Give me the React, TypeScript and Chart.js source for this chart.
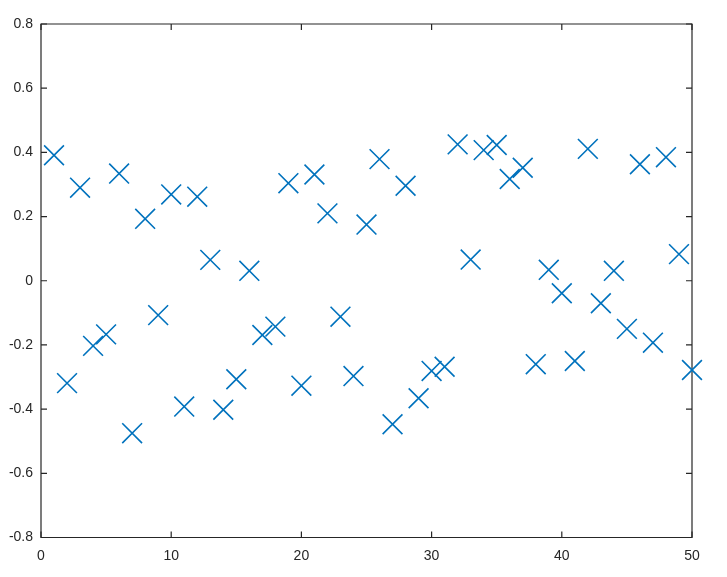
import React, { useEffect, useRef } from "react";
import { Chart, registerables } from "chart.js";

Chart.register(...registerables);

const xValues: number[] = [
  1, 2, 3, 4, 5, 6, 7, 8, 9, 10,
  11, 12, 13, 14, 15, 16, 17, 18, 19, 20,
  21, 22, 23, 24, 25, 26, 27, 28, 29, 30,
  31, 32, 33, 34, 35, 36, 37, 38, 39, 40,
  41, 42, 43, 44, 45, 46, 47, 48, 49, 50,
];

const yValues: number[] = [
  0.391, -0.319, 0.29, -0.203, -0.167, 0.334, -0.475, 0.193, -0.107, 0.269,
  -0.392, 0.262, 0.065, -0.402, -0.307, 0.031, -0.169, -0.143, 0.304, -0.327,
  0.331, 0.21, -0.112, -0.297, 0.175, 0.379, -0.447, 0.296, -0.366, -0.281,
  -0.268, 0.425, 0.066, 0.407, 0.423, 0.317, 0.352, -0.26, 0.034, -0.039,
  -0.25, 0.411, -0.07, 0.031, -0.15, 0.363, -0.193, 0.385, 0.083, -0.278,
];

const xTicks: number[] = [0, 10, 20, 30, 40, 50];
const yTicks: number[] = [-0.8, -0.6, -0.4, -0.2, 0, 0.2, 0.4, 0.6, 0.8];

const AXIS_COLOR = "#262626";
const MARK_COLOR = "#0072BD";
const FONT = "'Liberation Sans', Arial, sans-serif";

const framePlugin = {
  id: "frameTicks",
  beforeDatasetsDraw(chart: any) {
    const { ctx, chartArea, scales } = chart;
    const { left, right, top, bottom } = chartArea;
    const len = 6;
    ctx.save();
    ctx.strokeStyle = AXIS_COLOR;
    ctx.lineWidth = 1.2;
    ctx.beginPath();
    ctx.rect(left, top, right - left, bottom - top);
    ctx.stroke();
    ctx.beginPath();
    for (const v of xTicks) {
      const px = scales.x.getPixelForValue(v);
      ctx.moveTo(px, bottom);
      ctx.lineTo(px, bottom - len);
      ctx.moveTo(px, top);
      ctx.lineTo(px, top + len);
    }
    for (const v of yTicks) {
      const py = scales.y.getPixelForValue(v);
      ctx.moveTo(left, py);
      ctx.lineTo(left + len, py);
      ctx.moveTo(right, py);
      ctx.lineTo(right - len, py);
    }
    ctx.stroke();
    ctx.restore();
  },
};

export default function App() {
  const canvasRef = useRef<HTMLCanvasElement | null>(null);

  useEffect(() => {
    document.body.style.margin = "0";
    const canvas = canvasRef.current;
    if (!canvas) return;
    const chart = new Chart(canvas, {
      type: "scatter",
      data: {
        datasets: [
          {
            data: xValues.map((x, i) => ({ x, y: yValues[i] })),
            pointStyle: "crossRot",
            pointRadius: 14,
            pointHoverRadius: 14,
            borderColor: MARK_COLOR,
            backgroundColor: MARK_COLOR,
            pointBorderWidth: 1.6,
            clip: false as any,
          },
        ],
      },
      options: {
        animation: false,
        responsive: false,
        maintainAspectRatio: false,
        layout: { padding: { top: 24, right: 35, left: 0, bottom: 0 } },
        plugins: {
          legend: { display: false },
          tooltip: { enabled: false },
        },
        events: [],
        scales: {
          x: {
            type: "linear",
            min: 0,
            max: 50,
            afterFit: (s: any) => {
              s.height = 39.5;
            },
            afterBuildTicks: (s: any) => {
              s.ticks = xTicks.map((v) => ({ value: v }));
            },
            grid: { display: false, drawTicks: false },
            border: { display: false },
            ticks: {
              color: AXIS_COLOR,
              font: { family: FONT, size: 14 },
              padding: 10,
              maxRotation: 0,
              callback: (v: any) => String(v),
            },
          },
          y: {
            type: "linear",
            min: -0.8,
            max: 0.8,
            afterFit: (s: any) => {
              s.width = 41;
            },
            afterBuildTicks: (s: any) => {
              s.ticks = yTicks.map((v) => ({ value: v }));
            },
            grid: { display: false, drawTicks: false },
            border: { display: false },
            ticks: {
              color: AXIS_COLOR,
              font: { family: FONT, size: 14 },
              padding: 8,
              callback: (v: any) => (Math.abs(v) < 1e-9 ? "0" : Number(v).toFixed(1)),
            },
          },
        },
      },
      plugins: [framePlugin],
    });
    return () => chart.destroy();
  }, []);

  return (
    <div style={{ width: 727, height: 577, position: "relative" }}>
      <canvas ref={canvasRef} width={727} height={577} style={{ display: "block", width: 727, height: 577 }} />
    </div>
  );
}
